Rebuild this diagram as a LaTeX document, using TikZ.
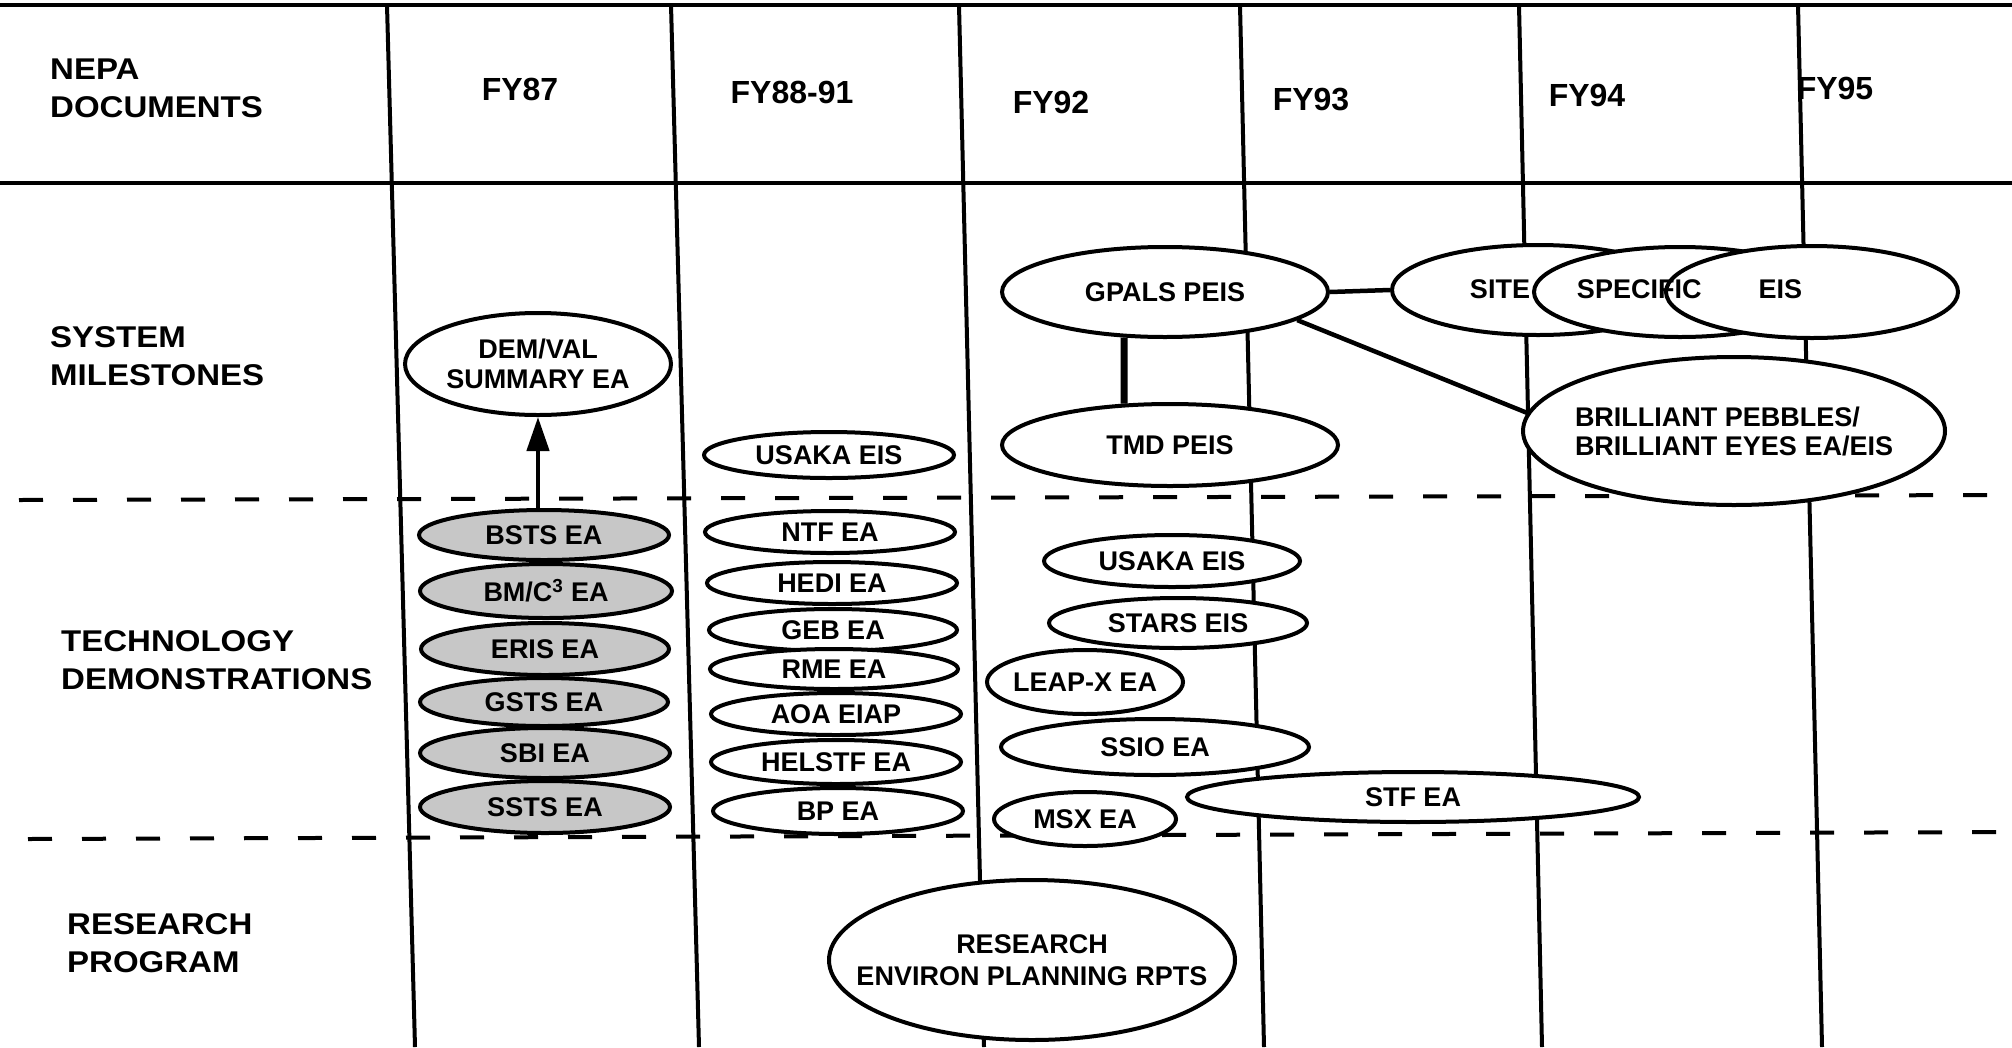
\documentclass[tikz,border=0pt]{standalone}
\usepackage{fontspec}
\setmainfont{Liberation Sans}
\newfontfamily\widesans[FakeStretch=1.1]{Liberation Sans}
\usetikzlibrary{shapes.geometric,arrows.meta}
\tikzset{
  gridln/.style={line width=4pt},
  dashln/.style={line width=4pt, dash pattern=on 24pt off 30pt},
  rowlab/.style={font=\widesans\bfseries\fontsize{30}{38}\selectfont, align=left, anchor=west, inner sep=0pt},
  yearlab/.style={font=\bfseries\fontsize{32}{36}\selectfont, inner sep=0pt},
  ell/.style={ellipse, draw, line width=4pt, fill=white, inner sep=0pt, align=center,
              font=\bfseries\fontsize{27}{30}\selectfont},
  shadedell/.style={ell, fill=black!22},
  conn/.style={line width=4.5pt},
  elltext/.style={font=\bfseries\fontsize{27}{30}\selectfont, inner sep=0pt},
}
\begin{document}
\begin{tikzpicture}[x=1pt,y=-1pt]
\fill[white] (0,0) rectangle (2012,1047);
\useasboundingbox (0,0) rectangle (2012,1047);

% grid
\draw[gridln] (0,5) -- (2012,5);
\draw[gridln] (0,183) -- (2012,183);
\draw[gridln] (387,5) -- (415,1047);
\draw[gridln] (671,5) -- (699,1047);
\draw[gridln] (959,5) -- (984,1047);
\draw[gridln] (1240,5) -- (1264,1047);
\draw[gridln] (1519,5) -- (1542,1047);
\draw[gridln] (1798,5) -- (1822,1047);
\draw[dashln] (19,500) -- (2012,495);
\draw[dashln] (28,839) -- (2012,832);

% row labels
\node[rowlab] (nepa) at (50,88) {NEPA\\DOCUMENTS};
\node[rowlab] (sysms) at (50,356) {SYSTEM\\MILESTONES};
\node[rowlab] (techdem) at (61,660) {TECHNOLOGY\\DEMONSTRATIONS};
\node[rowlab] (resprog) at (67,943) {RESEARCH\\PROGRAM};

% year labels
\node[yearlab] (fy87) at (520,89) {FY87};
\node[yearlab] (fy88) at (792,92) {FY88-91};
\node[yearlab] (fy92) at (1051,102) {FY92};
\node[yearlab] (fy93) at (1311,100) {FY93};
\node[yearlab] (fy94) at (1587,95) {FY94};
\node[yearlab] (fy95) at (1835,88) {FY95};

% FY87 column
\node[ell, minimum width=266pt, minimum height=102pt] (demval) at (538,364) {DEM/VAL\\SUMMARY EA};
\node[shadedell, minimum width=250pt, minimum height=50pt] (bsts) at (544,535) {BSTS EA};
\node[shadedell, minimum width=252pt, minimum height=54pt] (bmc) at (546,591) {BM/C\textsuperscript{3} EA};
\node[shadedell, minimum width=248pt, minimum height=52pt] (eris) at (545,649) {ERIS EA};
\node[shadedell, minimum width=248pt, minimum height=48pt] (gsts) at (544,702) {GSTS EA};
\node[shadedell, minimum width=250pt, minimum height=50pt] (sbi) at (545,753) {SBI EA};
\node[shadedell, minimum width=250pt, minimum height=52pt] (ssts) at (545,807) {SSTS EA};

% FY88-91 column
\node[ell, minimum width=250pt, minimum height=46pt] (usaka1) at (829,455) {USAKA EIS};
\node[ell, minimum width=250pt, minimum height=42pt] (ntf) at (830,532) {NTF EA};
\node[ell, minimum width=250pt, minimum height=42pt] (hedi) at (832,583) {HEDI EA};
\node[ell, minimum width=248pt, minimum height=42pt] (geb) at (833,630) {GEB EA};
\node[ell, minimum width=248pt, minimum height=40pt] (rme) at (834,669) {RME EA};
\node[ell, minimum width=250pt, minimum height=42pt] (aoa) at (836,714) {AOA EIAP};
\node[ell, minimum width=250pt, minimum height=44pt] (helstf) at (836,762) {HELSTF EA};
\node[ell, minimum width=250pt, minimum height=46pt] (bpea) at (838,811) {BP EA};

% FY92 onwards
\node[ell, minimum width=326pt, minimum height=90pt] (gpals) at (1165,292) {GPALS PEIS};
\node[ell, minimum width=336pt, minimum height=82pt] (tmd) at (1170,445) {TMD PEIS};
\node[ell, minimum width=292pt, minimum height=90pt] (site1) at (1538,290) {};
\node[ell, minimum width=292pt, minimum height=90pt] (site2) at (1680,292) {};
\node[ell, minimum width=292pt, minimum height=92pt] (site3) at (1812,292) {};
\node[ell, align=left, inner xsep=-40pt, minimum width=422pt, minimum height=148pt, font=\bfseries\fontsize{27}{29}\selectfont] (bp) at (1734,431) {BRILLIANT PEBBLES/\\BRILLIANT EYES EA/EIS};
\node[ell, minimum width=256pt, minimum height=52pt] (usaka2) at (1172,561) {USAKA EIS};
\node[ell, minimum width=258pt, minimum height=50pt] (stars) at (1178,623) {STARS EIS};
\node[ell, inner xsep=-6pt, minimum width=196pt, minimum height=64pt] (leapx) at (1085,682) {LEAP-X EA};
\node[ell, minimum width=308pt, minimum height=56pt] (ssio) at (1155,747) {SSIO EA};
\node[ell, minimum width=452pt, minimum height=50pt] (stf) at (1413,797) {STF EA};
\node[ell, minimum width=182pt, minimum height=54pt] (msx) at (1085,819) {MSX EA};
\node[ell, inner xsep=-60pt, minimum width=406pt, minimum height=160pt, font=\bfseries\fontsize{27}{32}\selectfont] (research) at (1032,960) {RESEARCH\\ENVIRON PLANNING RPTS};

% connectors
\draw[conn, -{Triangle[length=34pt,width=22pt]}] (demval.south |- bsts.north) -- (demval.south);
\draw[line width=7pt] (gpals.-132) -- (tmd.138);
\draw[conn] (gpals.east) -- (site1.west);
\draw[conn] (gpals.-12) -- (bp.175);

% site specific text on top
\node[elltext] (sitetxt) at (1636,289) {SITE\hspace{47pt}SPECIFIC\hspace{57pt}EIS};
\end{tikzpicture}
\end{document}
